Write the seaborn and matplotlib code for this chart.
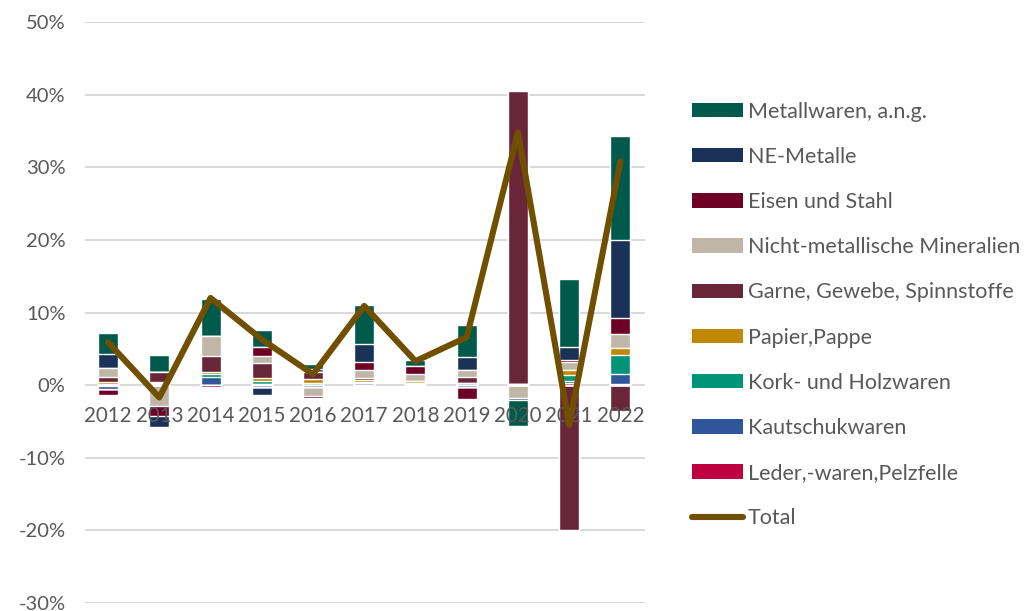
import numpy as np
import matplotlib
matplotlib.use("Agg")
import matplotlib.pyplot as plt
from matplotlib.patches import Patch
from matplotlib.lines import Line2D
import seaborn as sns

# Contributions to growth, in percentage points, by product group
years = ["2012", "2013", "2014", "2015", "2016", "2017", "2018", "2019", "2020", "2021", "2022"]

leder       = [-0.10, 0.05, -0.20, 0.10, 0.00, 0.05, 0.20, 0.05, 0.05, 0.25, 0.10]
kautschuk   = [-0.40, 0.10, 1.10, -0.30, -0.30, 0.25, 0.05, -0.20, 0.05, 0.30, 1.40]
kork        = [0.10, 0.20, 0.45, 0.45, 0.25, 0.15, 0.05, 0.20, 0.10, 0.80, 2.65]
papier      = [0.30, 0.10, 0.30, 0.45, 0.60, 0.20, 0.20, 0.05, 0.00, 0.70, 0.95]
garne       = [0.70, 1.30, 2.10, 2.00, 0.90, 0.30, 0.00, 0.80, 40.30, -20.00, -3.50]
nicht_met   = [1.20, -2.90, 2.85, 1.05, -1.15, 1.10, 1.00, 1.00, -1.80, 1.10, 2.00]
eisen       = [-0.90, -1.40, 0.00, 1.25, -0.35, 1.20, 1.15, -1.70, 0.00, 0.35, 2.15]
ne_metalle  = [2.00, -1.50, 0.00, -1.10, 0.45, 2.40, 0.00, 1.75, -0.25, 1.75, 10.70]
metallwaren = [2.90, 2.40, 5.10, 2.30, 0.70, 5.40, 0.80, 4.45, -3.60, 9.30, 14.35]

total = [5.9, -1.7, 12.0, 6.3, 1.5, 10.9, 3.3, 6.6, 34.8, -5.5, 30.8]

# Stacking order from the zero line outward
labels = ["Leder,-waren,Pelzfelle", "Kautschukwaren", "Kork- und Holzwaren", "Papier,Pappe",
          "Garne, Gewebe, Spinnstoffe", "Nicht-metallische Mineralien", "Eisen und Stahl",
          "NE-Metalle", "Metallwaren, a.n.g."]
colors = ["#BE0040", "#2F569B", "#009478", "#BF8800", "#6A2639", "#BFB6A8", "#6E0026",
          "#1B3258", "#005A4B"]
total_color = "#705000"
text_color = "#595959"

values = np.array([leder, kautschuk, kork, papier, garne, nicht_met, eisen, ne_metalle, metallwaren])
pos_cum = np.cumsum(np.clip(values, 0, None), axis=0)
neg_cum = np.cumsum(np.clip(values, None, 0), axis=0)

sns.set_theme(style="white")
plt.rcParams["font.family"] = ["Lato", "DejaVu Sans"]

fig = plt.figure(figsize=(10.28, 6.11), dpi=100)
ax = fig.add_axes([85 / 1028, 1 - 603 / 611, 560 / 1028, 581 / 611])

ax.set_ylim(-30, 50)
yt = np.arange(-30, 51, 10)
# Horizontal gridlines behind everything
for v in yt:
    ax.axhline(v, color="#D9D9D9", linewidth=1.4, zorder=0)

# Stacked bars: draw the outermost cumulative level first, inner levels on top
for k in reversed(range(len(labels))):
    for cum in (pos_cum[k], neg_cum[k]):
        sns.barplot(x=years, y=cum, color=colors[k], width=0.39, saturation=1,
                    errorbar=None, ax=ax, zorder=2)

sns.lineplot(x=np.arange(len(years)), y=total, color=total_color, linewidth=4.4,
             ax=ax, zorder=5, solid_capstyle="round", solid_joinstyle="round")

ax.set_ylim(-30, 50)
ax.set_xlim(-0.45, 10.48)
ax.set_yticks(yt)
ax.set_yticklabels([f"{v}%" for v in yt])
ax.grid(False)
ax.set_axisbelow(False)
ax.xaxis.set_zorder(3)
for s in ax.spines.values():
    s.set_visible(False)
ax.spines["bottom"].set_position(("data", 0))
ax.tick_params(axis="x", length=0, pad=15, labelsize=14.8, labelcolor=text_color)
ax.tick_params(axis="y", length=0, pad=14, labelsize=14.5, labelcolor=text_color)
ax.set_xlabel("")
ax.set_ylabel("")

handles = [Patch(facecolor=colors[k], edgecolor="none") for k in reversed(range(len(labels)))]
handles.append(Line2D([0], [0], color=total_color, linewidth=4.4, solid_capstyle="round"))
leg_labels = list(reversed(labels)) + ["Total"]
fig.legend(handles, leg_labels, loc="upper left", bbox_to_anchor=(683 / 1028, 1 - 93 / 611),
           frameon=False, fontsize=15.5, labelcolor=text_color, handlelength=2.4,
           handleheight=0.65, labelspacing=1.17, handletextpad=0.2, borderaxespad=0)

fig.savefig("out.png", dpi=100)
